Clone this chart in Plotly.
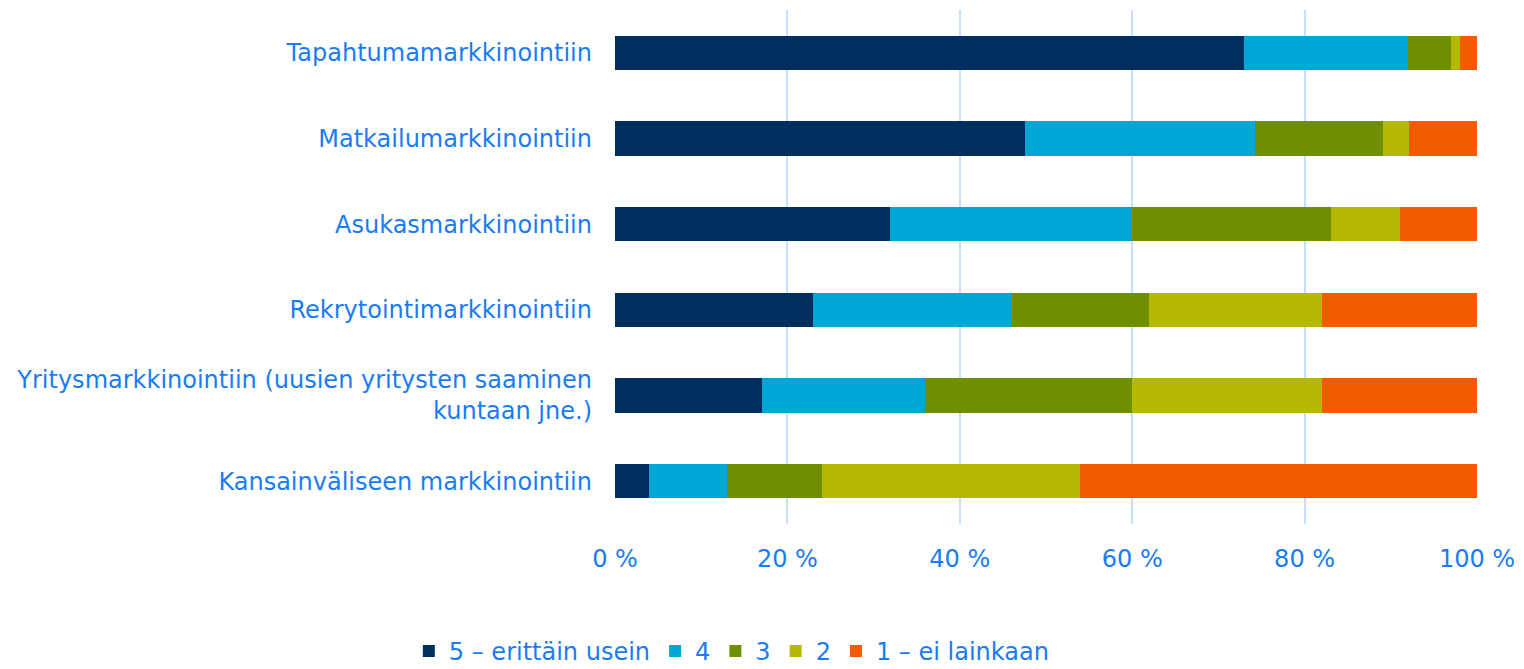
import plotly.graph_objects as go

categories = [
    "Tapahtumamarkkinointiin",
    "Matkailumarkkinointiin",
    "Asukasmarkkinointiin",
    "Rekrytointimarkkinointiin",
    "Yritysmarkkinointiin (uusien yritysten saaminen<br>kuntaan jne.)",
    "Kansainväliseen markkinointiin",
]

series_names = ["5 – erittäin usein", "4", "3", "2", "1 – ei lainkaan"]
colors = ["#002f5f", "#00a6d6", "#6d8f00", "#b5b905", "#f45a00"]

v5 = [73.0, 47.6, 31.9, 23.0, 17.0, 4.0]
v4 = [19.0, 26.6, 28.1, 23.0, 19.0, 9.0]
v3 = [5.0, 14.9, 23.1, 16.0, 24.0, 11.0]
v2 = [1.0, 3.0, 8.0, 20.0, 22.0, 30.0]
v1 = [2.0, 7.9, 8.9, 18.0, 18.0, 46.0]
values = [v5, v4, v3, v2, v1]

text_color = "#1a7cf5"

fig = go.Figure()
for name, vals, col in zip(series_names, values, colors):
    fig.add_trace(go.Bar(
        y=categories, x=vals, name=name, orientation="h",
        marker=dict(color=col, line=dict(width=0)),
    ))

# page body has an 8px margin, so the figure is a bit smaller than the window
fig.update_layout(
    barmode="stack",
    bargap=0.6,
    width=1508, height=661,
    margin=dict(l=607, r=39, t=2, b=145, autoexpand=False),
    plot_bgcolor="white",
    paper_bgcolor="white",
    font=dict(family="DejaVu Sans", size=24, color=text_color),
    legend=dict(
        orientation="h", xref="container", x=0.48, xanchor="center",
        yref="paper", y=-0.248, yanchor="middle",
        font=dict(size=24, color=text_color),
        traceorder="normal", itemwidth=30,
    ),
    xaxis=dict(
        range=[0, 100], tickvals=[0, 20, 40, 60, 80, 100],
        ticktext=["0 %", "20 %", "40 %", "60 %", "80 %", "100 %"],
        showgrid=True, gridcolor="#c5e0ff", gridwidth=2,
        zeroline=False, showline=False,
        ticklabelstandoff=18,
    ),
    yaxis=dict(
        autorange="reversed", showgrid=False, zeroline=False,
        ticklabelstandoff=22,
    ),
)

fig.write_html("out.html")
